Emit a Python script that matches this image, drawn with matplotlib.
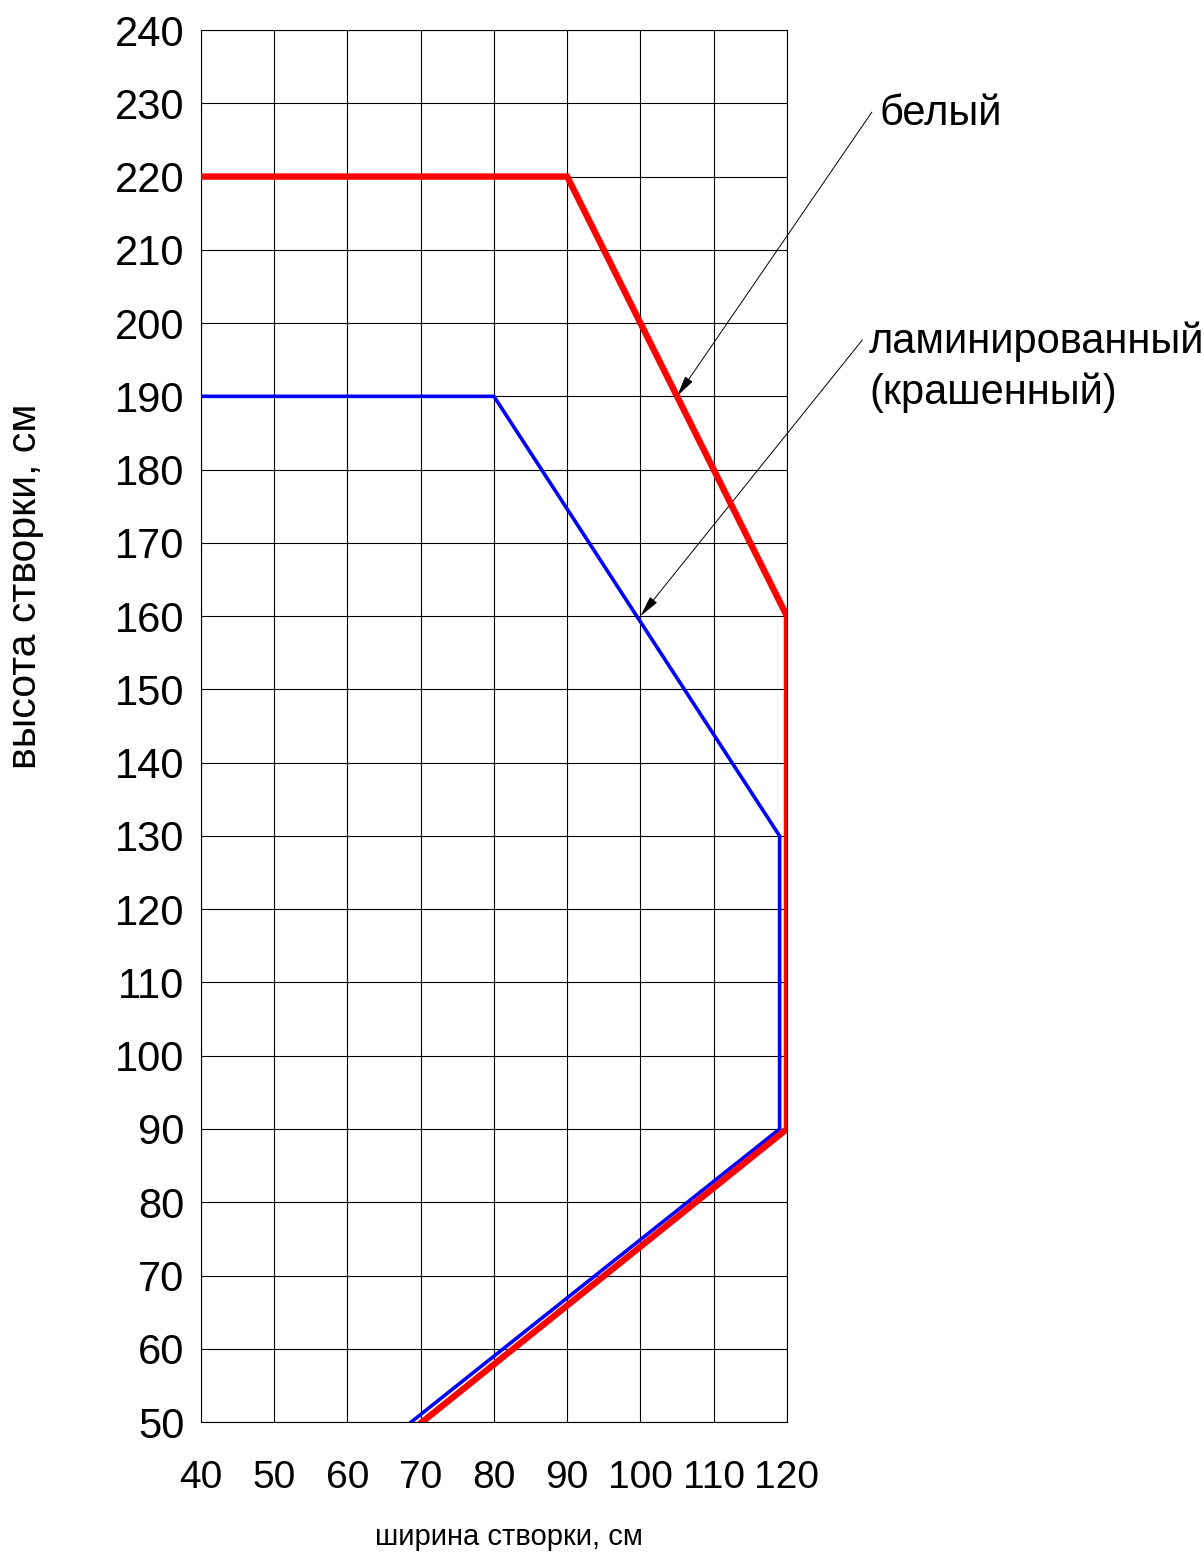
import matplotlib.pyplot as plt
import numpy as np

plt.rcParams['font.family'] = ['Liberation Sans', 'DejaVu Sans']

# ограничения по размерам створки
white_w = [40, 90, 120, 120, 70.2]
white_h = [220, 220, 160, 90, 50]

lam_w = [40, 80, 119, 119, 68.7]
lam_h = [190, 190, 130, 90, 50]

x_ticks = np.arange(40, 121, 10)
y_ticks = np.arange(50, 241, 10)

fig = plt.figure(figsize=(12.04, 15.56), dpi=100)
ax = fig.add_axes([0.1669, 0.0861, 0.4867, 0.8946])

ax.plot(lam_w, lam_h, color='#0000ff', lw=2.6, solid_joinstyle='miter', zorder=3)
ax.plot(white_w, white_h, color='#ff0000', lw=4.6, solid_joinstyle='miter', zorder=4)

ax.set_xlim(40, 120)
ax.set_ylim(50, 240)
ax.set_xticks(x_ticks)
ax.set_yticks(y_ticks)
ax.grid(True, color='black', lw=0.8)
for s in ax.spines.values():
    s.set_linewidth(0.8)
ax.tick_params(axis='both', length=0)
ax.tick_params(axis='y', labelsize=30, pad=12)
ax.tick_params(axis='x', labelsize=28, pad=27)

fig.text(0.021, 0.623, 'высота створки, см', rotation=90, fontsize=29.5,
         ha='center', va='center')
fig.text(0.423, 0.0122, 'ширина створки, см', fontsize=21,
         ha='center', va='center')

arrow = dict(arrowstyle='-|>,head_length=1.3,head_width=0.28', color='black',
             lw=0.7, shrinkA=0, shrinkB=0)
ax.annotate('', xy=(105, 190), xytext=(131.6, 228.8), arrowprops=arrow,
            annotation_clip=False)
ax.annotate('', xy=(100, 160), xytext=(130.3, 197.7), arrowprops=arrow,
            annotation_clip=False)

ax.text(132.6, 228.6, 'белый', fontsize=30, ha='left', va='center')
ax.text(131.2, 200.2, 'ламинированный\n(крашенный)', fontsize=30, ha='left',
        va='top', linespacing=1.32)

fig.savefig('out.png', dpi=100)
